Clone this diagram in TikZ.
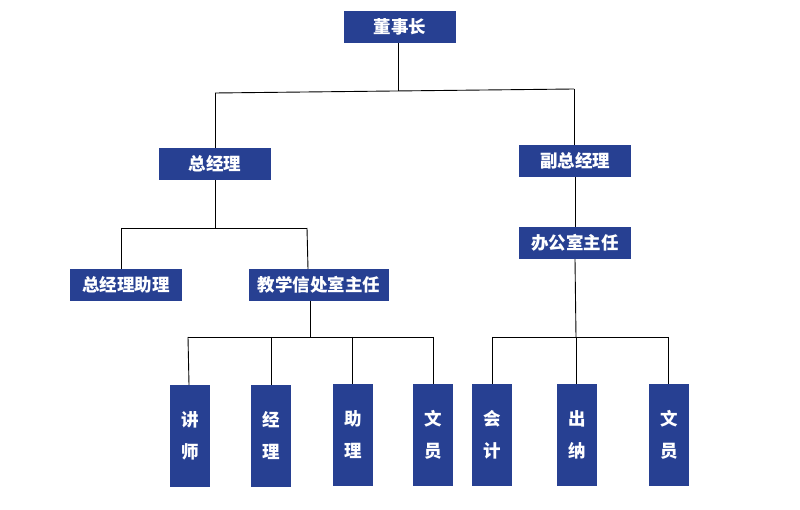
\documentclass[tikz,border=0pt]{standalone}
\usepackage{fontspec}
\newfontfamily\cjk{Noto Sans CJK SC}
\definecolor{boxblue}{RGB}{39,64,146}
\begin{document}
\begin{tikzpicture}[x=1pt,y=-1pt,
  hbox/.style={fill=boxblue,text=white,minimum width=112pt,minimum height=32pt,inner sep=0pt,
    font=\cjk\bfseries\fontsize{17.5}{17.5}\selectfont},
  vbox/.style={fill=boxblue,text=white,minimum width=40pt,minimum height=102pt,inner sep=0pt,align=center,
    font=\cjk\bfseries\fontsize{17.5}{32}\selectfont},
  conn/.style={draw=black,line width=0.9pt}]
\useasboundingbox (0,0) rectangle (800,510);
% top levels
\node[hbox] (dsz) at (400,27) {董事长};
\node[hbox] (zjl) at (215,164) {总经理};
\node[hbox] (fzjl) at (575,161) {副总经理};
\node[hbox] (bgs) at (575,243) {办公室主任};
\node[hbox] (zjlzl) at (126,285) {总经理助理};
\node[hbox,minimum width=140pt] (jxs) at (319,285) {教学信处室主任};
% bottom level
\node[vbox] (js) at (190,436) {讲\\师};
\node[vbox] (jl) at (271,436) {经\\理};
\node[vbox] (zl) at (353,435) {助\\理};
\node[vbox] (wy) at (433,435) {文\\员};
\node[vbox] (kj) at (492,435) {会\\计};
\node[vbox] (cn) at (577,435) {出\\纳};
\node[vbox] (wyb) at (669,435) {文\\员};
% junction coordinates
\coordinate (t0) at (398,91);
\coordinate (tL) at (215,93);
\coordinate (tR) at (574,89);
\coordinate (m0) at (215,228);
\coordinate (mL) at (121,228);
\coordinate (mR) at (307,228);
\coordinate (b0) at (310,337);
\coordinate (bL) at (188,337);
\coordinate (bR) at (433,337);
\coordinate (r0) at (576,337);
\coordinate (rL) at (492,337);
\coordinate (rR) at (668,337);
% connectors
\draw[conn] (t0 |- dsz.south) -- (t0);
\draw[conn] (tL) -- (tR);
\draw[conn] (tL) -- (zjl.north);
\draw[conn] (tR) -- (tR |- fzjl.north);
\draw[conn] (zjl.south) -- (m0);
\draw[conn] (mL) -- (mR);
\draw[conn] (mL) -- (mL |- zjlzl.north);
\draw[conn] (mR) -- (308,269);
\draw[conn] (b0 |- jxs.south) -- (b0);
\draw[conn] (bL) -- (bR);
\draw[conn] (bL) -- (189,385);
\draw[conn] (271,337) -- (271,385);
\draw[conn] (352,337) -- (352,384);
\draw[conn] (bR) -- (bR |- wy.north);
\draw[conn] (fzjl.south) -- (bgs.north);
\draw[conn] (bgs.south) -- (r0);
\draw[conn] (rL) -- (rR);
\draw[conn] (rL) -- (rL |- kj.north);
\draw[conn] (r0) -- (r0 |- cn.north);
\draw[conn] (rR) -- (rR |- wyb.north);
\end{tikzpicture}
\end{document}
